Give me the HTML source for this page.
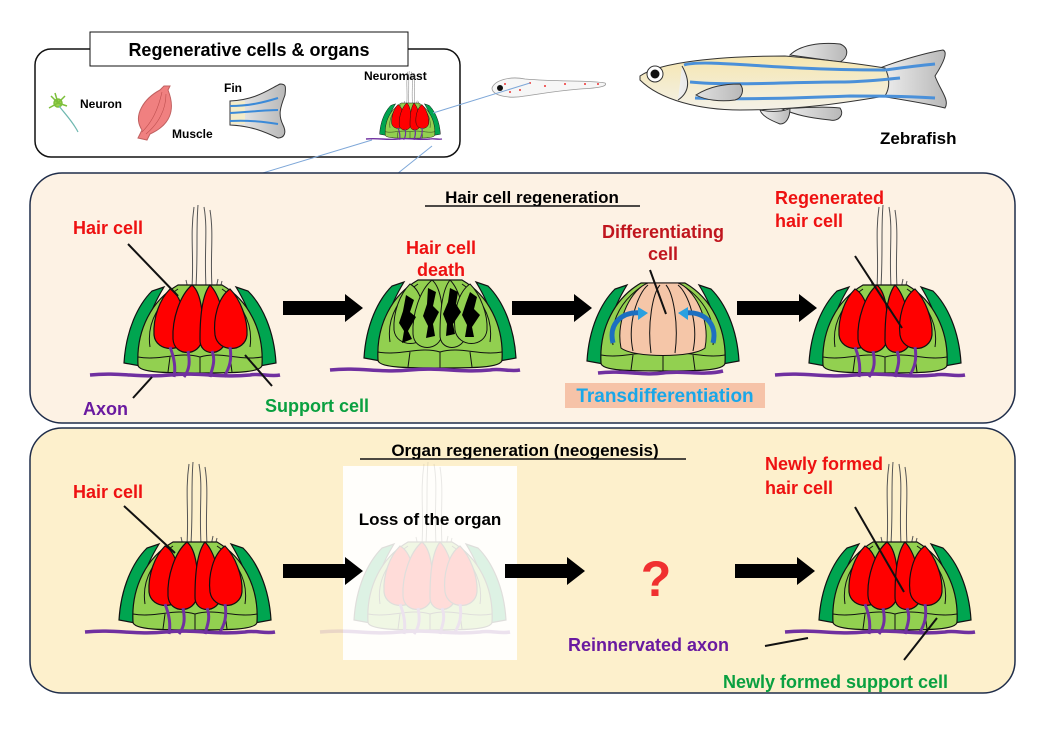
<!DOCTYPE html>
<html><head><meta charset="utf-8"><style>
html,body{margin:0;padding:0;background:#fff;}
svg{display:block;}
text{font-family:"Liberation Sans",sans-serif;font-weight:bold;}
</style></head><body>
<svg width="1050" height="736" viewBox="0 0 1050 736" xmlns="http://www.w3.org/2000/svg">
<defs>
<linearGradient id="fishg" x1="0" y1="0" x2="0" y2="1"><stop offset="0" stop-color="#f5e6b0"/><stop offset="1" stop-color="#f4f1e8"/></linearGradient>
<linearGradient id="fing" x1="0" y1="0" x2="1" y2="0"><stop offset="0" stop-color="#f0f0f0"/><stop offset="1" stop-color="#b8b8b8"/></linearGradient>
<g id="base">
 <path d="M-48,-84 C-62,-70 -74,-45 -76,-12 L-54,-8 C-60,-40 -50,-65 -36,-88 Z" fill="#00a550" stroke="#111" stroke-width="1.2"/>
 <path d="M48,-84 C62,-70 74,-45 76,-12 L54,-8 C60,-40 50,-65 36,-88 Z" fill="#00a550" stroke="#111" stroke-width="1.2"/>
 <path d="M-62,-10 C-64,-45 -48,-75 -22,-90 L22,-90 C48,-75 64,-45 62,-10 C62,-2 30,-2 0,-2 C-30,-2 -62,-2 -62,-10 Z" fill="#92d050" stroke="#111" stroke-width="1.2"/>
 <path d="M-50,-28 C-54,-55 -38,-75 -22,-86 M50,-28 C54,-55 38,-75 22,-86 M-62,-18 C-40,-14 -20,-24 0,-18 C20,-24 40,-14 62,-18 M-30,-18 L-32,-3 M0,-18 L0,-2 M30,-18 L32,-3" fill="none" stroke="#111" stroke-width="1"/>
</g>
<g id="cells">
 <path d="M-30,-86 C-18,-80 -14,-55 -14,-40 C-15,-22 -44,-22 -46,-40 C-47,-58 -40,-76 -30,-86 Z"/>
 <path d="M-8,-90 C2,-82 4,-55 2,-36 C0,-18 -26,-18 -27,-36 C-28,-56 -20,-80 -8,-90 Z"/>
 <path d="M10,-90 C20,-80 26,-55 26,-36 C24,-18 -1,-18 0,-36 C0,-56 2,-80 10,-90 Z"/>
 <path d="M30,-86 C40,-76 48,-56 47,-40 C45,-22 18,-22 15,-40 C13,-56 18,-78 30,-86 Z"/>
</g>
<g id="hairs" fill="none" stroke="#555" stroke-width="1">
 <path d="M-8,-88 C-6,-120 -10,-140 -6,-168 M-4,-88 C-2,-125 -4,-145 -2,-170 M6,-88 C4,-125 8,-145 4,-168 M12,-88 C10,-120 14,-140 10,-165 M-12,-86 L-14,-95 M16,-86 L18,-96 M20,-86 L22,-94"/>
</g>
<g id="neur" fill="none" stroke="#7030a0" stroke-width="3">
 <path d="M-30,-28 C-26,-18 -24,-8 -26,2 M-12,-24 C-10,-14 -10,-6 -16,2 M12,-24 C16,-14 12,-6 10,2 M30,-28 C32,-16 30,-8 24,2"/>
</g>
<path id="axon" d="M-110,0 C-80,-3 -60,3 -30,0 C0,-3 20,3 50,0 C60,-2 70,2 80,0" fill="none" stroke="#7030a0" stroke-width="3.5"/>
<g id="nm">
 <use href="#hairs"/>
 <use href="#base"/>
 <use href="#cells" fill="#ff0000" stroke="#111" stroke-width="1.2"/>
 <use href="#neur"/>
 <use href="#axon"/>
</g>
<path id="arr" d="M0,-7 L62,-7 L62,-14 L80,0 L62,14 L62,7 L0,7 Z" fill="#000"/>
</defs>

<!-- Top box -->
<rect x="35" y="49" width="425" height="108" rx="16" fill="#fff" stroke="#111" stroke-width="1.5"/>
<rect x="90" y="32" width="318" height="34" fill="#fff" stroke="#111" stroke-width="1"/>
<text x="249" y="56" font-size="18" text-anchor="middle">Regenerative cells &amp; organs</text>
<g stroke="#7cbf3a" stroke-width="1.5" fill="#9ad14b">
 <circle cx="58" cy="103" r="4"/>
 <path d="M58,103 L51,96 M58,103 L65,96 M58,103 L49,108 M58,103 L67,106 M58,103 L55,93" fill="none"/>
</g>
<path d="M59,106 C66,115 73,122 78,132" stroke="#6fb8b0" stroke-width="1.2" fill="none"/>
<text x="80" y="108" font-size="12">Neuron</text>
<path d="M168,90 C176,110 170,125 150,134 L147,140 L138,138 L142,130 C132,115 145,98 160,90 L164,86 L170,86 Z" fill="#f08080" stroke="#c06060" stroke-width="1"/>
<path d="M162,92 C158,110 152,122 142,132 M166,94 C166,110 158,124 146,134" stroke="#c05050" stroke-width="0.6" fill="none"/>
<text x="172" y="138" font-size="12">Muscle</text>
<text x="224" y="92" font-size="12">Fin</text>
<path d="M230,101 C255,100 268,90 280,84 C286,84 286,86 285,95 C280,108 278,115 283,125 C287,133 284,138 278,138 C265,132 252,126 230,125 Z" fill="url(#fing)" stroke="#333" stroke-width="1"/>
<path d="M231,102 L245,101 L245,124 L231,124 Z" fill="#f4ecc8"/>
<path d="M230,106 C250,106 265,102 278,98 M230,113 C250,112 265,110 278,110 M230,121 C250,120 265,122 278,124" stroke="#3b8ad8" stroke-width="2" fill="none"/>
<text x="364" y="80" font-size="12">Neuromast</text>
<g transform="translate(410,139) scale(0.4)"><use href="#nm"/></g>
<path d="M492,88 C495,80 510,76 525,79 C560,82 590,80 605,83 C608,86 600,88 580,89 C555,91 540,94 525,96 C510,99 492,96 492,88 Z" fill="#f6f6f6" stroke="#999" stroke-width="0.8"/>
<circle cx="500" cy="88" r="3" fill="#111"/>
<g fill="#e33"><circle cx="505" cy="84" r="1"/><circle cx="510" cy="92" r="1"/><circle cx="530" cy="83" r="1"/><circle cx="545" cy="86" r="1"/><circle cx="565" cy="84" r="1"/><circle cx="585" cy="84" r="1"/><circle cx="598" cy="84" r="1"/><circle cx="520" cy="90" r="1"/></g>
<g stroke="#7ea7d8" stroke-width="1" fill="none">
 <line x1="433" y1="113" x2="530" y2="83"/>
 <line x1="372" y1="140" x2="140" y2="210"/>
 <line x1="432" y1="146" x2="288" y2="261"/>
</g>
<!-- zebrafish -->
<path d="M790,55 C800,45 820,42 840,44 C850,48 848,58 840,62 Z" fill="url(#fing)" stroke="#333"/>
<path d="M780,108 C790,110 815,105 840,108 C845,115 838,122 830,120 C810,118 795,115 780,108 Z" fill="url(#fing)" stroke="#333"/>
<path d="M760,110 C770,112 785,112 790,108 C790,118 786,124 780,124 C770,120 762,116 760,110 Z" fill="url(#fing)" stroke="#333"/>
<path d="M880,68 C900,60 930,52 943,50 C948,52 944,62 935,76 C940,90 950,100 945,108 C930,104 905,100 880,96 Z" fill="url(#fing)" stroke="#333"/>
<path d="M640,76 C660,62 720,56 785,56 C830,60 860,64 885,68 C890,78 890,88 885,96 C850,102 800,110 740,110 C700,110 660,100 640,80 Z" fill="url(#fishg)" stroke="#333" stroke-width="1"/>
<path d="M684,65 C700,60 750,66 800,68 C840,70 870,70 885,70 M690,82 C730,86 790,82 840,82 C860,82 880,80 900,78 M695,98 C740,100 800,98 850,96 C880,96 900,96 935,98 M885,70 C900,68 915,66 935,64" stroke="#4a90d9" stroke-width="3" fill="none"/>
<path d="M682,66 C690,80 690,92 678,100 M696,95 C710,86 725,84 740,84 C745,90 742,98 735,100 C720,102 705,100 696,95 Z" fill="url(#fing)" stroke="#333" stroke-width="1"/>
<circle cx="655" cy="74" r="8" fill="#fff" stroke="#333"/>
<circle cx="655" cy="74" r="4.5" fill="#111"/>
<text x="880" y="144" font-size="17">Zebrafish</text>

<!-- Panel 1 -->
<rect x="30" y="173" width="985" height="250" rx="32" fill="#fdf2e4" stroke="#1f2d4a" stroke-width="1.5"/>
<text x="532" y="203" font-size="17" text-anchor="middle">Hair cell regeneration</text>
<line x1="425" y1="206" x2="640" y2="206" stroke="#111" stroke-width="1.5"/>
<g transform="translate(200,375)"><use href="#nm"/></g>
<text x="73" y="234" font-size="18" fill="#ee1111">Hair cell</text>
<line x1="128" y1="244" x2="178" y2="296" stroke="#111" stroke-width="2"/>
<line x1="133" y1="398" x2="152" y2="377" stroke="#111" stroke-width="2"/>
<text x="83" y="415" font-size="18" fill="#6a1aa0">Axon</text>
<line x1="245" y1="355" x2="272" y2="386" stroke="#111" stroke-width="2"/>
<text x="265" y="412" font-size="18" fill="#0aa040">Support cell</text>
<use href="#arr" x="283" y="308"/>
<g transform="translate(440,370)">
 <use href="#base"/>
 <use href="#cells" fill="#92d050" stroke="#111" stroke-width="1"/>
 <g fill="#000"><path d="M-34,-75 l8,5 -4,12 6,5 -8,14 4,8 -10,4 2,-12 -5,-8 4,-12 z"/><path d="M-12,-82 l8,4 -3,14 6,6 -6,12 2,12 -9,2 2,-12 -5,-10 4,-12 z"/><path d="M10,-82 l8,4 -2,12 5,8 -8,12 2,10 -9,2 1,-12 -4,-10 5,-12 z"/><path d="M30,-78 l7,5 -3,12 6,6 -8,12 2,10 -9,0 2,-12 -5,-10 4,-12 z"/></g>
 <use href="#axon"/>
</g>
<text x="441" y="254" font-size="18" fill="#ee1111" text-anchor="middle">Hair cell</text>
<text x="441" y="276" font-size="18" fill="#ee1111" text-anchor="middle">death</text>
<use href="#arr" x="512" y="308"/>
<g transform="translate(663,373)">
 <use href="#base"/>
 <path d="M-42,-25 C-48,-55 -30,-85 -15,-90 L15,-90 C30,-85 48,-55 42,-25 C30,-15 -30,-15 -42,-25 Z" fill="#f5c6a8" stroke="#111" stroke-width="1"/>
 <path d="M-30,-22 C-36,-50 -25,-80 -15,-88 M-12,-20 C-16,-50 -10,-80 -3,-88 M12,-20 C16,-50 10,-80 3,-88 M30,-22 C36,-50 25,-80 15,-88" fill="none" stroke="#111" stroke-width="1"/>
 <path d="M-50,-30 C-55,-50 -40,-62 -22,-60" fill="none" stroke="#1d6fc0" stroke-width="5"/>
 <path d="M-25,-66 L-15,-60 -25,-53 Z" fill="#2aa0e0"/>
 <path d="M50,-30 C55,-50 40,-62 22,-60" fill="none" stroke="#1d6fc0" stroke-width="5"/>
 <path d="M25,-66 L15,-60 25,-53 Z" fill="#2aa0e0"/>
 <path d="M-65,0 C-40,-3 -20,3 0,0 C20,-3 40,3 60,-2" fill="none" stroke="#7030a0" stroke-width="3.5"/>
</g>
<line x1="650" y1="270" x2="666" y2="314" stroke="#111" stroke-width="2"/>
<text x="663" y="238" font-size="18" fill="#c0161e" text-anchor="middle">Differentiating</text>
<text x="663" y="260" font-size="18" fill="#c0161e" text-anchor="middle">cell</text>
<rect x="565" y="383" width="200" height="25" fill="#f6c3a8"/>
<text x="665" y="402" font-size="19" fill="#1aa7e8" text-anchor="middle">Transdifferentiation</text>
<use href="#arr" x="737" y="308"/>
<g transform="translate(885,375)"><use href="#nm"/></g>
<text x="775" y="204" font-size="18" fill="#ee1111">Regenerated</text>
<text x="775" y="227" font-size="18" fill="#ee1111">hair cell</text>
<line x1="855" y1="256" x2="902" y2="328" stroke="#111" stroke-width="2"/>

<!-- Panel 2 -->
<rect x="30" y="428" width="985" height="265" rx="32" fill="#fdf0cc" stroke="#1f2d4a" stroke-width="1.5"/>
<text x="525" y="456" font-size="17" text-anchor="middle">Organ regeneration (neogenesis)</text>
<line x1="360" y1="459" x2="686" y2="459" stroke="#111" stroke-width="1.5"/>
<g transform="translate(195,632)"><use href="#nm"/></g>
<text x="73" y="498" font-size="18" fill="#ee1111">Hair cell</text>
<line x1="124" y1="506" x2="175" y2="553" stroke="#111" stroke-width="2"/>
<rect x="343" y="466" width="174" height="194" fill="#fffefb"/>
<g transform="translate(430,632)" opacity="0.13"><use href="#nm"/></g>
<use href="#arr" x="283" y="571"/>
<text x="430" y="525" font-size="17" text-anchor="middle">Loss of the organ</text>
<use href="#arr" x="505" y="571"/>
<text x="656" y="596" font-size="50" fill="#f03030" text-anchor="middle">?</text>
<use href="#arr" x="735" y="571"/>
<g transform="translate(895,632)"><use href="#nm"/></g>
<text x="765" y="470" font-size="18" fill="#ee1111">Newly formed</text>
<text x="765" y="494" font-size="18" fill="#ee1111">hair cell</text>
<line x1="855" y1="507" x2="904" y2="592" stroke="#111" stroke-width="2"/>
<text x="568" y="651" font-size="18" fill="#6a1aa0">Reinnervated axon</text>
<line x1="765" y1="646" x2="808" y2="638" stroke="#111" stroke-width="2"/>
<line x1="904" y1="660" x2="937" y2="618" stroke="#111" stroke-width="2"/>
<text x="723" y="688" font-size="18" fill="#0aa040">Newly formed support cell</text>
</svg>
</body></html>
